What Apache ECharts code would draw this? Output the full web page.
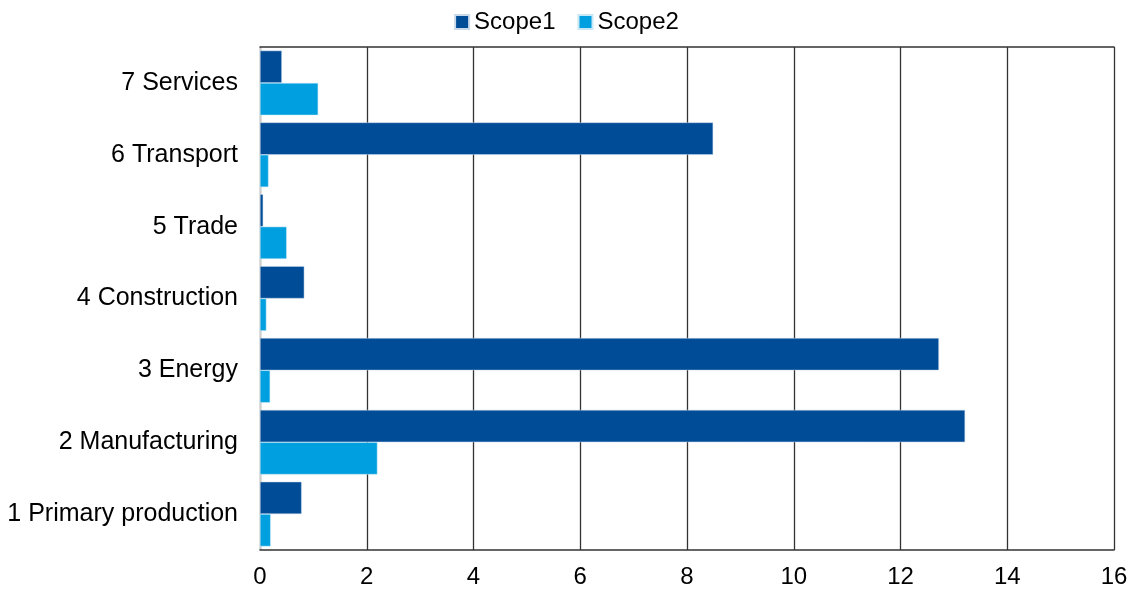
<!DOCTYPE html>
<html>
<head>
<meta charset="utf-8">
<script src="https://cdn.jsdelivr.net/npm/echarts@6/dist/echarts.min.js"></script>
<style>
  html, body { margin: 0; padding: 0; background: #fff; }
  #chart { width: 1133px; height: 593px; }
</style>
</head>
<body>
<div id="chart"></div>
<script>
// categories, bottom to top
const sectors = ['1 Primary production', '2 Manufacturing', '3 Energy', '4 Construction', '5 Trade', '6 Transport', '7 Services']
const scope1 = [0.78, 13.21, 12.72, 0.83, 0.06, 8.49, 0.41]
const scope2 = [0.2, 2.2, 0.19, 0.12, 0.5, 0.16, 1.09]
const xTicks = { min: 0, max: 16, interval: 2 }

const chart = echarts.init(document.getElementById('chart'))
const font = 'Liberation Sans, Arial, sans-serif'

chart.setOption({
  animation: false,
  textStyle: { fontFamily: font },
  legend: {
    top: 5,
    left: 'center',
    itemWidth: 14,
    itemHeight: 14,
    itemGap: 22,
    icon: 'rect',
    textStyle: { fontSize: 24, color: '#000', fontFamily: font }
  },
  grid: { left: 260, right: 19, top: 47, bottom: 43, containLabel: false },
  xAxis: [{
    type: 'value',
    min: xTicks.min,
    max: xTicks.max,
    interval: xTicks.interval,
    axisLine: { show: true, lineStyle: { color: '#333', width: 1.5 } },
    axisTick: { show: false },
    axisLabel: { fontSize: 24, color: '#000', margin: 15, fontFamily: font },
    splitLine: { show: true, lineStyle: { color: '#333', width: 1.3 } }
  }, {
    type: 'value',
    position: 'top',
    min: xTicks.min,
    max: xTicks.max,
    axisLine: { show: true, onZero: false, lineStyle: { color: '#333', width: 1.5 } },
    axisTick: { show: false },
    axisLabel: { show: false },
    splitLine: { show: false }
  }],
  yAxis: {
    type: 'category',
    data: sectors,
    axisLine: { show: true, onZero: false, lineStyle: { color: '#ccc', width: 1 } },
    axisTick: { show: false },
    axisLabel: { fontSize: 25, color: '#000', margin: 22, fontFamily: font }
  },
  series: [{
    name: 'Scope1',
    type: 'bar',
    data: scope1,
    barGap: '0%',
    barCategoryGap: '10%',
    itemStyle: { color: '#004C97', borderColor: '#c9d9ea', borderWidth: 0.5 }
  }, {
    name: 'Scope2',
    type: 'bar',
    data: scope2,
    barGap: '0%',
    barCategoryGap: '10%',
    itemStyle: { color: '#009FDF', borderColor: '#c9e8f6', borderWidth: 0.5 }
  }]
})
</script>
</body>
</html>
